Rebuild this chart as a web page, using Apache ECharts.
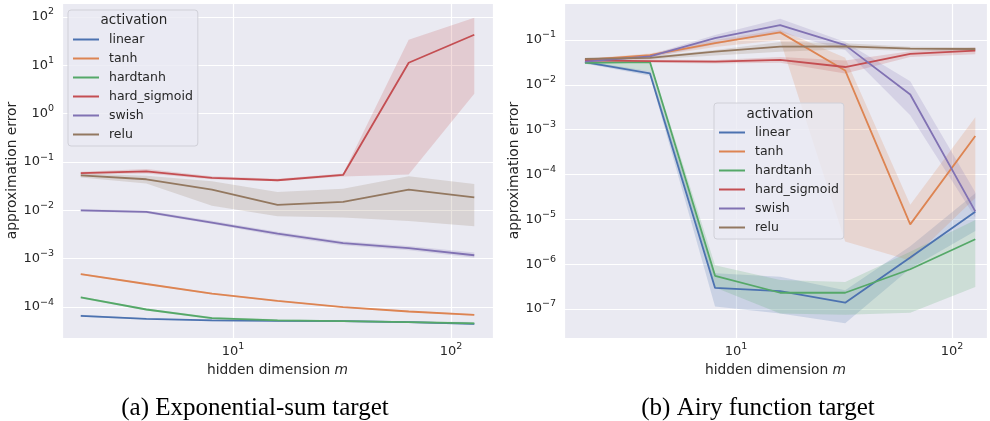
<!DOCTYPE html>
<html>
<head>
<meta charset="utf-8">
<script src="https://cdn.jsdelivr.net/npm/echarts@6/dist/echarts.min.js"></script>
<style>
  html, body { margin: 0; background: #fff; }
  #chart { width: 990px; height: 421px; }
</style>
</head>
<body>
<div id="chart"></div>
<script>
// hidden dimension m
const dims = [2, 4, 8, 16, 32, 64, 128];
const activations = ['linear', 'tanh', 'hardtanh', 'hard_sigmoid', 'swish', 'relu'];
const palette = ['#4c72b0', '#dd8452', '#55a868', '#c44e52', '#8172b3', '#937860'];

// (a) exponential-sum target: mean error and band
const expLinear = [6.6e-5, 5.7e-5, 5.3e-5, 5.2e-5, 5.1e-5, 4.9e-5, 4.5e-5];
const expLinearLo = [6.3e-5, 5.5e-5, 5.1e-5, 5.0e-5, 4.9e-5, 4.7e-5, 4.3e-5];
const expLinearHi = [6.9e-5, 5.9e-5, 5.5e-5, 5.4e-5, 5.3e-5, 5.1e-5, 4.7e-5];
const expTanh = [4.8e-4, 3.0e-4, 1.9e-4, 1.34e-4, 1.0e-4, 8.1e-5, 6.9e-5];
const expTanhLo = [4.6e-4, 2.9e-4, 1.82e-4, 1.29e-4, 9.7e-5, 7.8e-5, 6.6e-5];
const expTanhHi = [5.0e-4, 3.1e-4, 1.98e-4, 1.39e-4, 1.03e-4, 8.4e-5, 7.2e-5];
const expHardtanh = [1.58e-4, 8.9e-5, 5.9e-5, 5.3e-5, 5.1e-5, 4.9e-5, 4.6e-5];
const expHardtanhLo = [1.5e-4, 8.5e-5, 5.6e-5, 5.0e-5, 4.9e-5, 4.7e-5, 4.3e-5];
const expHardtanhHi = [1.65e-4, 9.3e-5, 6.2e-5, 5.6e-5, 5.3e-5, 5.1e-5, 4.9e-5];
const expHardSigmoid = [0.059, 0.064, 0.047, 0.042, 0.054, 11.3, 43];
const expHardSigmoidLo = [0.055, 0.058, 0.044, 0.040, 0.050, 0.055, 2.6];
const expHardSigmoidHi = [0.063, 0.072, 0.051, 0.045, 0.058, 34, 97];
const expSwish = [0.0100, 0.0093, 0.0056, 0.0033, 0.0021, 0.00166, 0.00118];
const expSwishLo = [0.0095, 0.0087, 0.0052, 0.0030, 0.0019, 0.00150, 0.00105];
const expSwishHi = [0.0106, 0.0100, 0.0061, 0.0036, 0.0023, 0.00183, 0.00135];
const expRelu = [0.053, 0.044, 0.027, 0.013, 0.015, 0.027, 0.0185];
const expReluLo = [0.048, 0.036, 0.0125, 0.0076, 0.0071, 0.006, 0.0047];
const expReluHi = [0.058, 0.052, 0.040, 0.024, 0.028, 0.051, 0.035];

// (b) Airy function target
const airyLinear = [0.032, 0.018, 2.95e-7, 2.5e-7, 1.38e-7, 1.4e-6, 1.48e-5];
const airyLinearLo = [0.030, 0.016, 1.14e-7, 7.9e-8, 4.8e-8, 8e-7, 5.5e-6];
const airyLinearHi = [0.034, 0.020, 6.3e-7, 5.2e-7, 2.6e-7, 2.5e-6, 3.8e-5];
const airyTanh = [0.036, 0.046, 0.085, 0.148, 0.021, 7.7e-6, 7.2e-4];
const airyTanhLo = [0.034, 0.042, 0.07, 0.10, 3.2e-6, 1.2e-6, 3e-5];
const airyTanhHi = [0.038, 0.050, 0.10, 0.17, 0.04, 2.1e-5, 1.9e-3];
const airyHardtanh = [0.031, 0.032, 5.5e-7, 2.3e-7, 2.3e-7, 7.7e-7, 3.6e-6];
const airyHardtanhLo = [0.029, 0.020, 3.0e-7, 7.9e-8, 7.4e-8, 8.2e-8, 3.1e-7];
const airyHardtanhHi = [0.033, 0.035, 9.5e-7, 4.4e-7, 4.0e-7, 1.9e-6, 9.7e-6];
const airyHardSigmoid = [0.035, 0.034, 0.033, 0.036, 0.025, 0.049, 0.058];
const airyHardSigmoidLo = [0.032, 0.031, 0.030, 0.031, 0.018, 0.042, 0.048];
const airyHardSigmoidHi = [0.038, 0.037, 0.036, 0.042, 0.035, 0.056, 0.068];
const airySwish = [0.033, 0.043, 0.11, 0.216, 0.077, 0.0061, 1.5e-5];
const airySwishLo = [0.031, 0.040, 0.08, 0.15, 0.06, 0.0021, 1.1e-5];
const airySwishHi = [0.035, 0.047, 0.13, 0.30, 0.09, 0.012, 4.0e-5];
const airyRelu = [0.038, 0.040, 0.055, 0.071, 0.072, 0.064, 0.063];
const airyReluLo = [0.036, 0.037, 0.045, 0.055, 0.062, 0.058, 0.057];
const airyReluHi = [0.040, 0.043, 0.060, 0.09, 0.085, 0.071, 0.069];

const panels = [
  {
    mean: [expLinear, expTanh, expHardtanh, expHardSigmoid, expSwish, expRelu],
    lo: [expLinearLo, expTanhLo, expHardtanhLo, expHardSigmoidLo, expSwishLo, expReluLo],
    hi: [expLinearHi, expTanhHi, expHardtanhHi, expHardSigmoidHi, expSwishHi, expReluHi]
  },
  {
    mean: [airyLinear, airyTanh, airyHardtanh, airyHardSigmoid, airySwish, airyRelu],
    lo: [airyLinearLo, airyTanhLo, airyHardtanhLo, airyHardSigmoidLo, airySwishLo, airyReluLo],
    hi: [airyLinearHi, airyTanhHi, airyHardtanhHi, airyHardSigmoidHi, airySwishHi, airyReluHi]
  }
];

const FONT = '"DejaVu Sans", sans-serif';
const TEXT = '#262626';

function powLabel(v) {
  const e = Math.log10(v);
  const r = Math.round(e);
  if (Math.abs(e - r) > 1e-6) return '';
  return '{b|10}{s|' + (r < 0 ? '\u2212' + (-r) : r) + '}';
}
const powRich = {
  b: { fontSize: 13, lineHeight: 20, color: TEXT, fontFamily: FONT },
  s: { fontSize: 9.5, lineHeight: 9, verticalAlign: 'top', color: TEXT, fontFamily: FONT }
};

function xAxis(gi, min, max) {
  return {
    type: 'log', gridIndex: gi, logBase: 10, min: min, max: max,
    axisLine: { show: false }, axisTick: { show: false },
    splitLine: { show: true, lineStyle: { color: '#fff', width: 1.2 } },
    axisLabel: { formatter: powLabel, rich: powRich, margin: 4 },
    name: 'hidden dimension {i|m}', nameLocation: 'middle', nameGap: 21,
    nameTextStyle: {
      fontSize: 13.8, color: TEXT, fontFamily: FONT,
      rich: { i: { fontSize: 13.8, fontStyle: 'italic', color: TEXT, fontFamily: FONT } }
    }
  };
}
function yAxis(gi, min, max) {
  return {
    type: 'log', gridIndex: gi, logBase: 10, min: min, max: max,
    axisLine: { show: false }, axisTick: { show: false },
    splitLine: { show: true, lineStyle: { color: '#fff', width: 1.2 } },
    axisLabel: { formatter: powLabel, rich: powRich, margin: 8 },
    name: 'approximation error', nameLocation: 'middle', nameGap: 38,
    nameTextStyle: { fontSize: 13.8, color: TEXT, fontFamily: FONT }
  };
}

function bandSeries(lo, hi, color, gi) {
  return {
    type: 'custom', xAxisIndex: gi, yAxisIndex: gi, silent: true, z: 1,
    data: dims.map((d, i) => [d, lo[i], hi[i]]),
    encode: { x: 0, y: [1, 2] },
    renderItem(params, api) {
      if (params.dataIndex !== 0) return null;
      const top = dims.map((d, i) => api.coord([d, hi[i]]));
      const bottom = dims.map((d, i) => api.coord([d, lo[i]])).reverse();
      return {
        type: 'polygon',
        shape: { points: top.concat(bottom) },
        style: { fill: color, opacity: 0.2 }
      };
    }
  };
}

const series = [];
panels.forEach((p, gi) => {
  activations.forEach((name, k) => {
    series.push(bandSeries(p.lo[k], p.hi[k], palette[k], gi));
  });
  activations.forEach((name, k) => {
    series.push({
      type: 'line', name: name, xAxisIndex: gi, yAxisIndex: gi, z: 3,
      color: palette[k], symbol: 'none', silent: true,
      lineStyle: { width: 1.8, color: palette[k] },
      emphasis: { disabled: true },
      data: dims.map((d, i) => [d, p.mean[k][i]])
    });
  });
});

function legend(left, top) {
  return {
    data: activations, left: left, top: top, orient: 'vertical',
    icon: 'rect', itemWidth: 26, itemHeight: 2, itemGap: 4,
    padding: [22, 5, 4, 5],
    backgroundColor: 'rgba(234,234,242,0.8)', borderColor: '#d0d0d8', borderWidth: 1, borderRadius: 3,
    selectedMode: false,
    textStyle: { fontSize: 12.5, lineHeight: 15, color: TEXT, fontFamily: FONT, padding: [0, 0, 0, 5] }
  };
}

function legendTitle(x, y) {
  return {
    type: 'text', z: 100, x: x, y: y,
    style: { text: 'activation', textAlign: 'center', textVerticalAlign: 'middle',
      font: '13.5px "DejaVu Sans", sans-serif', fill: TEXT }
  };
}
function caption(text, x) {
  return {
    type: 'text', z: 100, x: x, y: 408,
    style: { text: text, textAlign: 'center', textVerticalAlign: 'middle',
      font: '25px "Liberation Serif", serif', fill: '#000' }
  };
}

const chart = echarts.init(document.getElementById('chart'), null, { renderer: 'canvas' });
chart.setOption({
  animation: false,
  backgroundColor: '#fff',
  grid: [
    { left: 62, top: 3, width: 431, height: 335, show: true, backgroundColor: '#eaeaf2', borderWidth: 0 },
    { left: 564, top: 3, width: 425, height: 335, show: true, backgroundColor: '#eaeaf2', borderWidth: 0 }
  ],
  xAxis: [xAxis(0, 1.64, 156), xAxis(1, 1.6, 145)],
  yAxis: [yAxis(0, 2.29e-5, 195), yAxis(1, 2.25e-8, 0.67)],
  legend: [legend(68, 10), legend(714, 103)],
  graphic: [
    legendTitle(134, 20),
    legendTitle(780, 114),
    caption('(a) Exponential-sum target', 255),
    caption('(b) Airy function target', 758)
  ],
  series: series
});
</script>
</body>
</html>
